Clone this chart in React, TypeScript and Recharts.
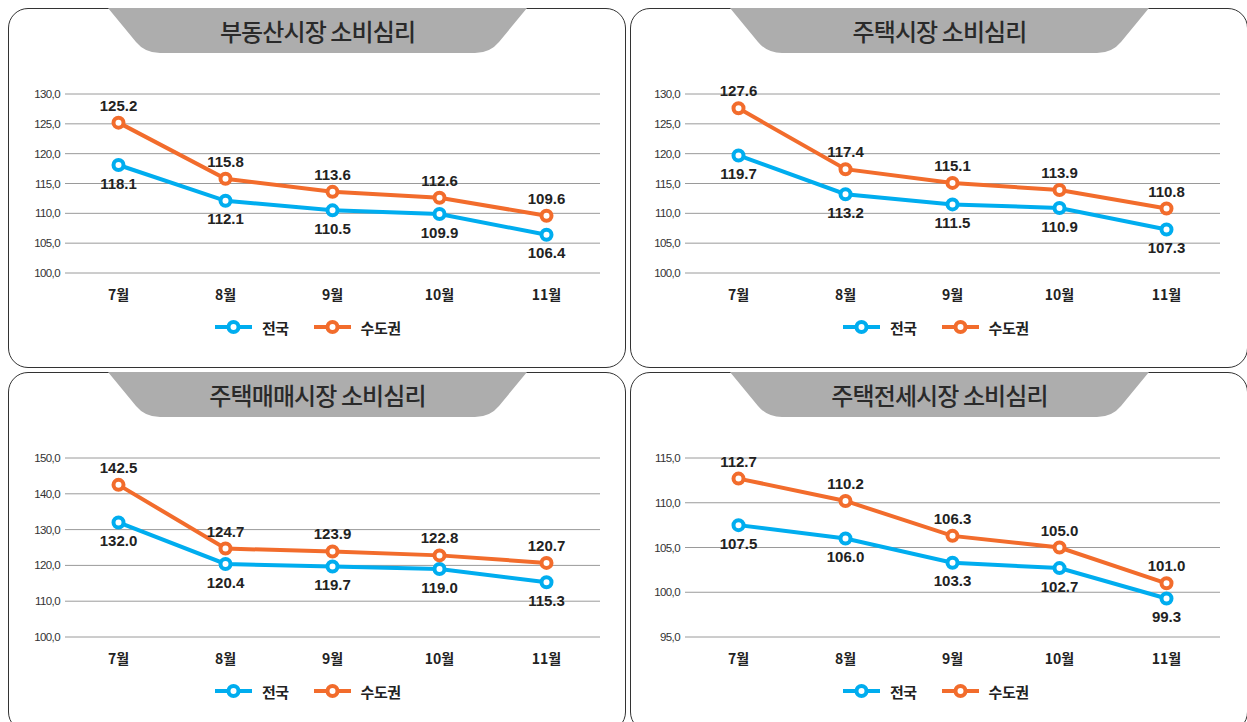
import React from 'react';
import { LineChart, Line, XAxis, YAxis, CartesianGrid, LabelList, Legend } from 'recharts';

const months = ['7월', '8월', '9월', '10월', '11월'];
const seriesNames = ['전국', '수도권'];
const titles = ['부동산시장 소비심리', '주택시장 소비심리', '주택매매시장 소비심리', '주택전세시장 소비심리'];

const realEstateNational = [118.1, 112.1, 110.5, 109.9, 106.4];
const realEstateCapital = [125.2, 115.8, 113.6, 112.6, 109.6];
const housingNational = [119.7, 113.2, 111.5, 110.9, 107.3];
const housingCapital = [127.6, 117.4, 115.1, 113.9, 110.8];
const saleNational = [132.0, 120.4, 119.7, 119.0, 115.3];
const saleCapital = [142.5, 124.7, 123.9, 122.8, 120.7];
const jeonseNational = [107.5, 106.0, 103.3, 102.7, 99.3];
const jeonseCapital = [112.7, 110.2, 106.3, 105.0, 101.0];

const ticksHousing = [100, 105, 110, 115, 120, 125, 130];
const ticksSale = [100, 110, 120, 130, 140, 150];
const ticksJeonse = [95, 100, 105, 110, 115];

const BLUE = '#00ADEF';
const ORANGE = '#F26C2C';
const NUM_FONT = "'Liberation Sans', Arial, 'Noto Sans CJK KR', sans-serif";
const KR_FONT = "'Noto Sans CJK KR', 'Noto Sans', sans-serif";

const build = (nat: number[], cap: number[]) =>
  months.map((m, i) => ({ month: m, national: nat[i], capital: cap[i] }));

const fmtTick = (v: number) => v.toFixed(1).replace('.', ',');
const fmtLabel = (v: any) => Number(v).toFixed(1);

const LegendContent = (props: any) => {
  const payload = [...(props.payload || [])].sort(
    (a: any, b: any) => seriesNames.indexOf(a.value) - seriesNames.indexOf(b.value)
  );
  return (
    <div style={{ display: 'flex', alignItems: 'center', height: 20 }}>
      {payload.map((p: any, i: number) => (
        <div key={i} style={{ display: 'flex', alignItems: 'center', marginRight: 25 }}>
          <svg width={37} height={18} style={{ display: 'block' }}>
            <line x1={0} y1={9} x2={37} y2={9} stroke={p.color} strokeWidth={4} />
            <circle cx={18.5} cy={9} r={5} fill="#fff" stroke={p.color} strokeWidth={4} />
          </svg>
          <span
            style={{
              marginLeft: 10,
              fontFamily: KR_FONT,
              fontWeight: 700,
              fontSize: 15,
              color: '#222',
              letterSpacing: -0.5,
            }}
          >
            {p.value}
          </span>
        </div>
      ))}
    </div>
  );
};

type PanelProps = {
  left: number;
  top: number;
  title: string;
  nat: number[];
  cap: number[];
  ticks: number[];
  dx: number;
  legendLeft: number;
};

const Panel = ({ left, top, title, nat, cap, ticks, dx, legendLeft }: PanelProps) => {
  const data = build(nat, cap);
  return (
    <div
      style={{
        position: 'absolute',
        left,
        top,
        width: 618,
        height: 360,
        boxSizing: 'border-box',
        border: '1px solid #333',
        borderRadius: 20,
        background: '#fff',
      }}
    >
      <svg
        width={616}
        height={47}
        style={{ position: 'absolute', left: 0, top: -1, overflow: 'visible' }}
      >
        <path
          d="M99,0 L518,0 L490,34 Q481,45 466,45 L151,45 Q136,45 127,34 Z"
          fill="#ADADAD"
        />
        <text
          x={308.5}
          y={33}
          textAnchor="middle"
          fontFamily={KR_FONT}
          fontWeight={500}
          fontSize={24}
          letterSpacing={-0.9}
          fill="#2a2a2a"
        >
          {title}
        </text>
      </svg>
      <div style={{ position: 'absolute', left: dx, top: 0 }}>
        <LineChart
          width={616}
          height={358}
          data={data}
          margin={{ top: 85, right: 25, bottom: 44, left: 0 }}
        >
          <CartesianGrid vertical={false} stroke="#9A9A9A" strokeWidth={1} />
          <XAxis
            dataKey="month"
            axisLine={false}
            tickLine={false}
            tickSize={0}
            tickMargin={17}
            height={30}
            padding={{ left: 53.5, right: 53.5 }}
            tick={{ fontFamily: KR_FONT, fontWeight: 700, fontSize: 14, fill: '#222' }}
          />
          <YAxis
            type="number"
            domain={[ticks[0], ticks[ticks.length - 1]]}
            ticks={ticks}
            interval={0}
            width={56}
            axisLine={false}
            tickLine={false}
            tickSize={0}
            tickMargin={5}
            tickFormatter={fmtTick}
            tick={{ fontFamily: NUM_FONT, fontSize: 11.5, fill: '#333', letterSpacing: -0.6 }}
          />
          <Legend
            verticalAlign="bottom"
            height={20}
            itemSorter={null as any}
            content={<LegendContent />}
            wrapperStyle={{ position: 'absolute', left: legendLeft, top: 308, bottom: 'auto', width: 'auto' }}
          />
          <Line
            dataKey="national"
            name={seriesNames[0]}
            stroke={BLUE}
            strokeWidth={4}
            dot={{ r: 5, strokeWidth: 4, fill: '#fff', stroke: BLUE }}
            activeDot={false}
            isAnimationActive={false}
          >
            <LabelList
              dataKey="national"
              position="bottom"
              offset={13}
              formatter={fmtLabel}
              fontFamily={NUM_FONT}
              fontWeight={700}
              fontSize={15}
              fill="#222"
            />
          </Line>
          <Line
            dataKey="capital"
            name={seriesNames[1]}
            stroke={ORANGE}
            strokeWidth={4}
            dot={{ r: 5, strokeWidth: 4, fill: '#fff', stroke: ORANGE }}
            activeDot={false}
            isAnimationActive={false}
          >
            <LabelList
              dataKey="capital"
              position="top"
              offset={12}
              formatter={fmtLabel}
              fontFamily={NUM_FONT}
              fontWeight={700}
              fontSize={15}
              fill="#222"
            />
          </Line>
        </LineChart>
      </div>
    </div>
  );
};

export default function App() {
  return (
    <div
      style={{
        position: 'absolute',
        left: 0,
        top: 0,
        width: 1247,
        height: 722,
        overflow: 'hidden',
        background: '#fff',
        fontFamily: KR_FONT,
      }}
    >
      <Panel left={8} top={8} title={titles[0]} nat={realEstateNational} cap={realEstateCapital} ticks={ticksHousing} dx={0} legendLeft={206} />
      <Panel left={630} top={8} title={titles[1]} nat={housingNational} cap={housingCapital} ticks={ticksHousing} dx={-2} legendLeft={214} />
      <Panel left={8} top={372} title={titles[2]} nat={saleNational} cap={saleCapital} ticks={ticksSale} dx={0} legendLeft={206} />
      <Panel left={630} top={372} title={titles[3]} nat={jeonseNational} cap={jeonseCapital} ticks={ticksJeonse} dx={-2} legendLeft={214} />
    </div>
  );
}
